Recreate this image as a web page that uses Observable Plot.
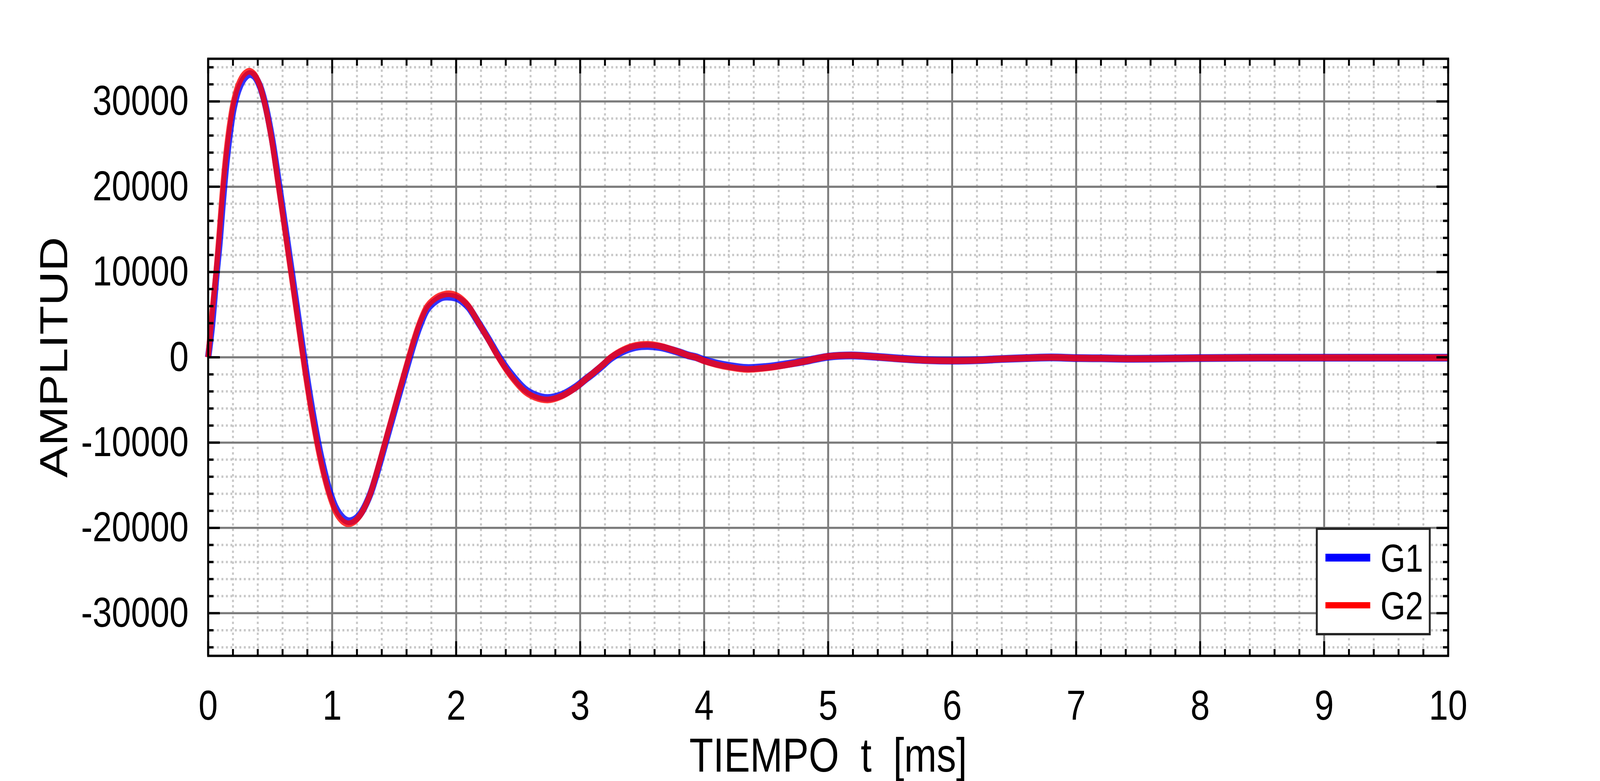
<!DOCTYPE html>
<html>
<head>
<meta charset="utf-8">
<script src="https://cdn.jsdelivr.net/npm/d3@7"></script>
<script src="https://cdn.jsdelivr.net/npm/@observablehq/plot@0.6"></script>
<style>
html, body { margin: 0; padding: 0; background: #ffffff; overflow: hidden; }
#chart { position: relative; width: 100vw; height: 100vh; }
</style>
</head>
<body>
<div id="chart"></div>
<script>
// ---- data ----
const time = [0, 0.03, 0.064, 0.09, 0.119, 0.15, 0.18, 0.204, 0.245, 0.29, 0.331, 0.37, 0.413, 0.452, 0.51, 0.568, 0.62, 0.667, 0.717, 0.765,
  0.785, 0.806, 0.828, 0.852, 0.877, 0.905, 0.937, 0.975, 1.025, 1.06, 1.1, 1.131, 1.17, 1.21, 1.247, 1.3075, 1.349, 1.388, 1.426, 1.464,
  1.502, 1.54, 1.579, 1.618, 1.658, 1.704, 1.767, 1.84, 1.89, 1.942, 2.0, 2.05, 2.1, 2.182, 2.263, 2.341, 2.431, 2.553, 2.64, 2.738,
  2.85, 2.968, 3.05, 3.1, 3.18, 3.248, 3.35, 3.45, 3.547, 3.65, 3.809, 3.871, 3.93, 4.0, 4.1, 4.2, 4.343, 4.5, 4.6, 4.8,
  4.9, 5.0, 5.19, 5.4, 5.6, 5.8, 6.0, 6.19, 6.397, 6.595, 6.797, 7.0, 7.204, 7.4, 7.6, 8.0, 8.5, 9.0, 9.5, 10.0];

const g1 = [0, 3630, 9300, 13170, 18400, 23270, 26830, 29100, 31380, 32700, 33200, 33000, 31950, 30150, 26040, 20590, 15440, 10690, 5640, 790,
  -1190, -3220, -5220, -7260, -9270, -11320, -13370, -15490, -17520, -18390, -19020, -19220, -19110, -18670, -17930, -16030, -14180, -12230, -10260, -8290,
  -6320, -4350, -2370, -400, 1580, 3580, 5640, 6670, 7060, 7110, 6970, 6550, 5860, 4010, 2100, 170, -1740, -3730, -4460, -4770,
  -4420, -3440, -2500, -1950, -980, -110, 740, 1220, 1330, 1180, 540, 230, 30, -330, -720, -1000, -1250, -1130, -950, -480,
  -190, 70, 220, 50, -170, -330, -390, -345, -200, -90, -15, -90, -120, -170, -160, -90, -50, -45, -45, -45];

const g2 = [0, 5000, 10000, 14600, 20000, 24600, 27900, 29900, 32000, 33170, 33550, 33210, 32000, 30000, 25700, 20000, 14800, 10000, 4900, 0,
  -2000, -4000, -6000, -8000, -10000, -12000, -14000, -16000, -18000, -18840, -19390, -19520, -19350, -18815, -18000, -16000, -14000, -12000, -10000, -8000,
  -6000, -4000, -2000, 0, 2000, 4000, 6000, 7000, 7330, 7450, 7255, 6770, 6000, 4000, 2000, 0, -2000, -4000, -4720, -5000,
  -4550, -3500, -2500, -1900, -900, 0, 900, 1400, 1520, 1300, 560, 220, 0, -420, -850, -1150, -1420, -1250, -1040, -500,
  -180, 100, 230, 30, -200, -350, -400, -350, -200, -90, -15, -90, -120, -170, -160, -90, -50, -45, -45, -45];

const seriesNames = ["G1", "G2"];
const xMajor = [0, 1, 2, 3, 4, 5, 6, 7, 8, 9, 10];
const yMajor = [-30000, -20000, -10000, 0, 10000, 20000, 30000];
const xMinor = d3.range(0, 51).map(i => i / 5).filter(v => Math.abs(v - Math.round(v)) > 1e-9);
const yMinor = d3.range(-34000, 34001, 2000).filter(v => v % 10000 !== 0);
const xLabel = "TIEMPO\u00a0\u00a0t\u00a0\u00a0[ms]";
const yLabel = "AMPLITUD";

// ---- layout (designed on a 5000 x 2000 canvas, stretched to the window) ----
const W = 5000, H = 2000;
const ML = 650, MR = 475, MT = 150, MB = 321;
const FONT = "'Liberation Sans', Arial, Helvetica, sans-serif";

const rows1 = time.map((t, i) => ({t, v: g1[i], s: seriesNames[0]}));
const rows2 = time.map((t, i) => ({t, v: g2[i], s: seriesNames[1]}));

const minorGrid = {stroke: "#c8c8c8", strokeOpacity: 1, strokeWidth: 6, strokeDasharray: "6,8"};
const fmt = d => String(d);
const tickOpts = {strokeWidth: 6, stroke: "black", fill: "none", label: null, tickFormat: () => ""};

const plot = Plot.plot({
  width: W, height: H,
  marginLeft: ML, marginRight: MR, marginTop: MT, marginBottom: MB,
  style: {fontFamily: FONT, background: "#ffffff", color: "black", overflow: "visible"},
  x: {domain: [0, 10]},
  y: {domain: [-35000, 35000]},
  marks: [
    Plot.gridX(xMinor, minorGrid),
    Plot.gridY(yMinor, minorGrid),
    Plot.gridX(xMajor, {stroke: "#7c7c7c", strokeOpacity: 1, strokeWidth: 6}),
    Plot.gridY(yMajor, {stroke: "#7c7c7c", strokeOpacity: 1, strokeWidth: 5.5}),
    Plot.line(rows1, {x: "t", y: "v", stroke: "#0000ff", strokeWidth: 20, strokeOpacity: 0.8, strokeLinecap: "butt", curve: "catmull-rom"}),
    Plot.line(rows2, {x: "t", y: "v", stroke: "#ff0000", strokeWidth: 17, strokeOpacity: 0.8, strokeLinecap: "butt", curve: "catmull-rom"}),
    Plot.frame({stroke: "black", strokeWidth: 6}),
    // inward ticks on all four sides
    Plot.axisX(xMajor, {anchor: "bottom", tickSize: -37, ...tickOpts}),
    Plot.axisX(xMinor, {anchor: "bottom", tickSize: -17, ...tickOpts}),
    Plot.axisX(xMajor, {anchor: "top", tickSize: -37, ...tickOpts}),
    Plot.axisX(xMinor, {anchor: "top", tickSize: -17, ...tickOpts}),
    Plot.axisY(yMajor, {anchor: "left", tickSize: -37, ...tickOpts}),
    Plot.axisY(yMinor, {anchor: "left", tickSize: -17, ...tickOpts}),
    Plot.axisY(yMajor, {anchor: "right", tickSize: -37, ...tickOpts}),
    Plot.axisY(yMinor, {anchor: "right", tickSize: -17, ...tickOpts}),
    // tick labels
    Plot.axisX(xMajor, {anchor: "bottom", tickSize: 0, tickPadding: 87, fontSize: 108, fill: "black", label: null, tickFormat: fmt}),
    Plot.axisY(yMajor, {anchor: "left", tickSize: 0, tickPadding: 61, fontSize: 108, fill: "black", label: null, tickFormat: fmt}),
    // axis titles
    Plot.text([xLabel], {frameAnchor: "bottom", textAnchor: "middle", lineAnchor: "bottom", dy: 296, fontSize: 122, fill: "black"}),
    Plot.text([yLabel], {frameAnchor: "left", textAnchor: "middle", lineAnchor: "bottom", rotate: -90, dx: -440, fontSize: 122, fill: "black"})
  ]
});

// ---- legend (inside the plot, lower right) ----
const svg = d3.select(plot);
const right = W - MR, bottom = H - MB;
const bx = right - 410, by = bottom - 325, bw = 353, bh = 270;
const lg = svg.append("g").attr("class", "legend");
lg.append("rect").attr("x", bx).attr("y", by).attr("width", bw).attr("height", bh)
  .attr("fill", "#ffffff").attr("stroke", "#262626").attr("stroke-width", 6);
const legendItems = [
  {name: seriesNames[0], color: "#0000ff", width: 20, dy: 74},
  {name: seriesNames[1], color: "#ff0000", width: 16, dy: 196}
];
legendItems.forEach(it => {
  lg.append("line").attr("x1", bx + 27).attr("x2", bx + 167).attr("y1", by + it.dy).attr("y2", by + it.dy)
    .attr("stroke", it.color).attr("stroke-width", it.width);
  lg.append("text").attr("x", bx + 199).attr("y", by + it.dy).attr("dy", "0.36em")
    .attr("text-anchor", "start")
    .attr("font-size", 100).attr("font-family", FONT).attr("fill", "black").text(it.name);
});

// stretch the 5000 x 2000 drawing over the whole window
plot.setAttribute("viewBox", `0 0 ${W} ${H}`);
plot.setAttribute("preserveAspectRatio", "none");
plot.style.width = "100vw";
plot.style.height = "100vh";
plot.style.maxWidth = "none";
plot.style.display = "block";
document.getElementById("chart").appendChild(plot);
</script>
</body>
</html>
